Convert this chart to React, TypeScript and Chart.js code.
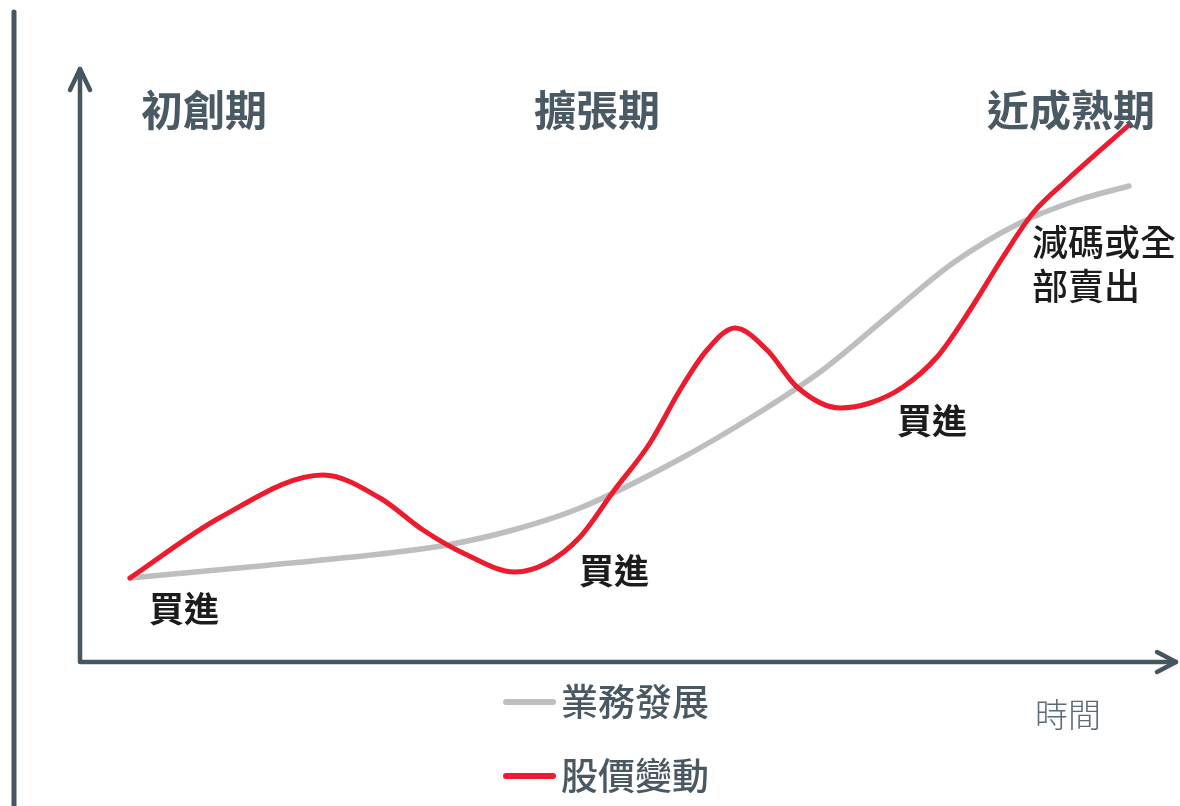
import React, { useEffect, useRef } from "react";
import { Chart, registerables } from "chart.js";

Chart.register(...registerables);

// Business development (gray) curve
const businessX = [5, 18, 30, 36.7, 43.3, 50, 60, 68, 74, 80.7, 87.3, 94, 99.5, 104.9];
const businessY = [8.4, 9.6, 10.8, 11.7, 13.2, 15.4, 20.3, 25, 29, 34.5, 39.9, 43.9, 46.1, 47.6];

// Share price (red) curve
const priceX = [5, 14.1, 24.3, 30, 34.3, 38.3, 43.5, 46.7, 50, 53.3, 57, 60, 62.7, 65.5, 68.7, 71.7, 76, 79, 82.3, 85.7, 89, 92.3, 95.3, 98.7, 104.9];
const priceY = [8.4, 14.5, 18.7, 16.4, 13.2, 10.9, 9, 9.9, 12.5, 17, 21.9, 27.2, 31.2, 33.4, 31.2, 27.5, 25.4, 25.9, 27.5, 30.5, 35.2, 40.5, 44.9, 48.2, 53.7];

const seriesNames = ["業務發展", "股價變動"];
const phaseLabels = ["初創期", "擴張期", "近成熟期"];
const phaseX = [12.4, 51.7, 99.1];
const phaseY = 55.2;
const buyLabel = "買進";
const buyX = [10.4, 53.4, 85.2];
const buyY = [5.3, 9.1, 24.1];
const sellLines = ["減碼或全", "部賣出"];
const sellX = 95.2;
const sellY = [42, 37.6];
const axisLabel = "時間";

const X_MAX = 109;
const Y_MAX = 59.2;

const GRAY = "#bdbec0";
const RED = "#ec1c2e";
const AXIS = "#455661";
const FONT = '"Noto Sans CJK TC", "Noto Sans", sans-serif';

export default function App() {
  const ref = useRef<HTMLCanvasElement | null>(null);

  useEffect(() => {
    if (!ref.current) return;

    const decor = {
      id: "decor",
      beforeDatasetsDraw(chart: any) {
        const ctx = chart.ctx;
        const a = chart.chartArea;
        ctx.save();
        ctx.strokeStyle = AXIS;
        ctx.lineCap = "round";
        ctx.lineJoin = "round";
        // outer left rule
        ctx.lineWidth = 5;
        ctx.beginPath();
        ctx.moveTo(14, 12);
        ctx.lineTo(14, 810);
        ctx.stroke();
        // axes
        ctx.lineWidth = 4.5;
        ctx.beginPath();
        ctx.moveTo(a.left, a.top - 1);
        ctx.lineTo(a.left, a.bottom);
        ctx.lineTo(a.right + 6, a.bottom);
        ctx.stroke();
        // y arrowhead
        ctx.beginPath();
        ctx.moveTo(a.left - 10, a.top + 20);
        ctx.lineTo(a.left, a.top - 1);
        ctx.lineTo(a.left + 10, a.top + 20);
        ctx.stroke();
        // x arrowhead
        ctx.beginPath();
        ctx.moveTo(a.right - 13, a.bottom - 10);
        ctx.lineTo(a.right + 6, a.bottom);
        ctx.lineTo(a.right - 13, a.bottom + 10);
        ctx.stroke();
        ctx.restore();
      },
      afterDatasetsDraw(chart: any) {
        const ctx = chart.ctx;
        const xs = chart.scales.x;
        const ys = chart.scales.y;
        const a = chart.chartArea;
        ctx.save();
        ctx.textBaseline = "middle";
        // phase labels
        ctx.textAlign = "center";
        ctx.fillStyle = "#4a5a65";
        ctx.font = `bold 42px ${FONT}`;
        phaseLabels.forEach((t, i) => {
          ctx.fillText(t, xs.getPixelForValue(phaseX[i]), ys.getPixelForValue(phaseY));
        });
        // buy labels
        ctx.fillStyle = "#1c1c1c";
        ctx.font = `bold 35px ${FONT}`;
        buyX.forEach((x, i) => {
          ctx.fillText(buyLabel, xs.getPixelForValue(x), ys.getPixelForValue(buyY[i]));
        });
        // sell label
        ctx.textAlign = "left";
        ctx.font = `500 36px ${FONT}`;
        sellLines.forEach((t, i) => {
          ctx.fillText(t, xs.getPixelForValue(sellX), ys.getPixelForValue(sellY[i]));
        });
        // axis label
        ctx.textAlign = "center";
        ctx.fillStyle = "#5d6b75";
        ctx.font = `300 33px ${FONT}`;
        ctx.fillText(axisLabel, a.right - 102, a.bottom + 52);
        // legend
        const colors = [GRAY, RED];
        seriesNames.forEach((name, i) => {
          const y = a.bottom + 40 + i * 74;
          ctx.strokeStyle = colors[i];
          ctx.lineWidth = 6;
          ctx.lineCap = "round";
          ctx.beginPath();
          ctx.moveTo(506, y);
          ctx.lineTo(553, y);
          ctx.stroke();
          ctx.fillStyle = "#4a5863";
          ctx.textAlign = "left";
          ctx.font = `500 37px ${FONT}`;
          ctx.fillText(name, 561, y);
        });
        ctx.restore();
      },
    };

    const chart = new Chart(ref.current, {
      type: "line",
      data: {
        datasets: [
          {
            label: seriesNames[0],
            data: businessX.map((x, i) => ({ x, y: businessY[i] })),
            borderColor: GRAY,
            borderWidth: 5.5,
            pointRadius: 0,
            cubicInterpolationMode: "monotone",
            borderCapStyle: "round",
            borderJoinStyle: "round",
            fill: false,
            order: 2,
            clip: false as any,
          },
          {
            label: seriesNames[1],
            data: priceX.map((x, i) => ({ x, y: priceY[i] })),
            borderColor: RED,
            borderWidth: 5,
            pointRadius: 0,
            cubicInterpolationMode: "monotone",
            borderCapStyle: "round",
            borderJoinStyle: "round",
            fill: false,
            order: 1,
            clip: false as any,
          },
        ],
      },
      options: {
        responsive: false,
        animation: false,
        events: [],
        layout: { padding: { left: 80, right: 10, top: 70, bottom: 144 } },
        plugins: { legend: { display: false }, tooltip: { enabled: false } },
        scales: {
          x: { type: "linear", min: 0, max: X_MAX, display: false },
          y: { type: "linear", min: 0, max: Y_MAX, display: false },
        },
      },
      plugins: [decor],
    });
    return () => chart.destroy();
  }, []);

  return (
    <div style={{ position: "absolute", left: 0, top: 0, width: 1180, height: 806, background: "#fff" }}>
      <canvas ref={ref} width={1180} height={806} />
    </div>
  );
}
